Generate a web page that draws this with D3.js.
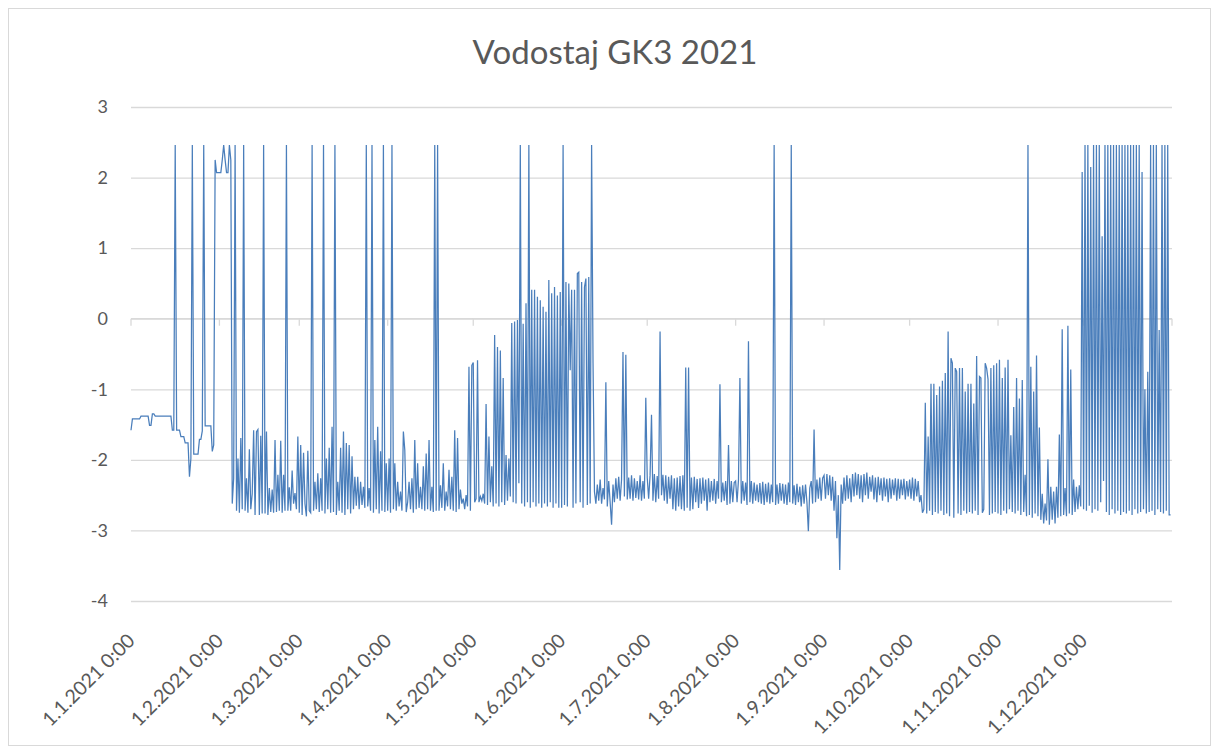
<!DOCTYPE html>
<html>
<head>
<meta charset="utf-8">
<script src="https://cdn.jsdelivr.net/npm/d3@7"></script>
<style>
  html, body { margin: 0; padding: 0; background: #ffffff; }
  svg { display: block; }
  text { font-family: Lato, "Open Sans", "Liberation Sans", sans-serif; fill: #595959; }
</style>
</head>
<body>
<svg id="chart" width="1219" height="754"></svg>
<script>
// Water level readings, two samples per day, one array per month (metres).
const jan = [-1.58,-1.42,-1.42,-1.42,-1.42,-1.42,-1.42,-1.38,-1.38,-1.38,-1.38,-1.38,-1.38,-1.51,-1.51,-1.35,-1.35,
  -1.38,-1.38,-1.38,-1.38,-1.38,-1.38,-1.38,-1.38,-1.38,-1.38,-1.38,-1.38,-1.58,-1.58,2.46,-1.58,-1.58,-1.58,
  -1.67,-1.67,-1.67,-1.76,-1.76,-1.76,-2.24,-1.98,2.46,-1.92,-1.92,-1.92,-1.92,-1.71,-1.71,-1.59,2.46,
  -1.52,-1.52,-1.52,-1.52,-1.52,-1.88,-1.79,2.25,2.07,2.07];
const feb = [2.07,2.07,2.25,2.46,2.25,2.07,2.07,2.46,2.25,-2.62,-2.26,2.46,-2.72,-1.98,-2.75,-1.69,-2.70,2.46,
  -2.72,-2.26,-2.75,-1.85,-2.70,-2.48,-1.58,-2.78,-1.60,-1.57,-2.78,-1.66,-2.76,2.46,-2.76,-1.60,-2.78,-2.40,
  -2.74,-2.42,-2.75,-1.72,-2.74,-2.21,-2.72,-1.73,-2.75,-2.21,-2.72,2.46,-2.72,-2.39,-2.72,-2.15,-2.62,-2.47,
  -2.70,-1.67];
const mar = [-2.75,-1.79,-2.78,-1.90,-2.62,-2.80,-1.87,-2.72,-2.75,2.46,-2.72,-2.31,-2.70,-2.19,-2.74,-2.26,
  -2.72,2.46,-2.76,-1.98,-2.70,-1.83,-2.75,-1.53,-2.74,2.46,-2.78,-2.31,-2.72,-1.83,-2.75,-1.60,-2.78,-1.76,
  -2.70,-1.79,-2.76,-1.95,-2.70,-2.24,-2.65,-2.24,-2.70,-2.31,-2.64,-2.38,-2.68,2.46,-2.66,-2.40,-2.72,2.46,
  -2.75,-1.72,-2.70,-1.53,-2.76,-1.88,-2.72,2.46,-2.74,-2.05];
const apr = [-2.72,-1.98,-2.75,2.46,-2.70,-2.05,-2.72,-2.31,-2.66,-2.45,-2.72,-1.60,-1.86,-2.74,-2.60,-2.31,
  -2.70,-2.26,-2.75,-1.72,-2.70,-2.05,-2.68,-2.38,-2.70,-2.09,-2.72,-1.91,-2.70,-1.72,-2.72,-2.38,-2.74,2.46,
  -2.72,2.46,-2.72,-2.36,-2.68,-2.05,-2.72,-2.45,-2.66,-2.14,-2.70,-2.24,-2.72,-1.58,-2.74,-1.69,-2.70,-2.42,
  -2.62,-2.55,-2.70,-2.50,-2.66,-0.68,-2.72,-0.66];
const may = [-0.62,-2.60,-2.55,-0.59,-2.60,-2.52,-2.58,-2.48,-2.62,-1.21,-2.64,-1.67,-2.60,-2.09,-2.66,-0.23,
  -2.62,-0.40,-2.66,-0.45,-2.60,-0.84,-2.64,-1.93,-2.58,-1.98,-2.52,-0.06,-2.60,-0.04,-2.62,-0.02,-2.33,2.46,
  -2.62,-0.07,-2.66,0.22,-2.60,2.46,-2.68,0.41,-2.60,0.41,-2.66,0.31,-2.62,0.26,-2.68,0.17,-2.62,0.10,-2.66,
  0.55,-2.60,0.36,-2.68,0.45,-2.62,0.33,-2.68,0.38];
const jun = [-2.68,2.46,-2.64,0.52,-2.66,0.50,-0.73,0.41,-2.68,0.41,-2.62,0.64,0.66,-2.60,0.52,-2.68,0.45,0.57,
  -2.64,0.59,-2.62,2.46,-0.63,-2.45,-2.62,-2.35,-2.58,-2.28,-2.62,-2.40,-2.56,-0.90,-2.66,-2.30,-2.60,-2.92,
  -2.35,-2.60,-2.26,-2.55,-2.24,-2.58,-2.28,-0.47,-2.52,-0.51,-2.56,-2.25,-2.55,-2.22,-2.58,-2.26,-2.54,-2.30,
  -2.56,-2.22,-2.58,-2.30,-2.55,-1.12];
const jul = [-2.25,-2.55,-2.22,-1.36,-2.58,-2.20,-2.60,-2.23,-2.55,-0.18,-2.50,-2.21,-2.58,-2.22,-2.62,-2.24,
  -2.55,-2.22,-2.70,-2.26,-2.72,-2.25,-2.66,-2.23,-2.70,-2.22,-2.72,-0.69,-2.68,-0.69,-2.72,-2.25,-2.70,-2.24,
  -2.60,-2.27,-2.68,-2.26,-2.62,-2.25,-2.58,-2.28,-2.72,-2.26,-2.60,-2.30,-2.58,-2.27,-2.62,-2.30,-2.55,-0.93,
  -2.60,-2.32,-2.58,-2.30,-2.64,-1.79,-2.62,-2.30,-2.60,-2.32];
const aug = [-2.30,-2.60,-2.28,-0.84,-2.62,-2.30,-2.58,-2.32,-2.64,-0.32,-2.60,-2.30,-2.62,-2.32,-2.58,-2.35,
  -2.60,-2.33,-2.62,-2.31,-2.64,-2.34,-2.60,-2.32,-2.62,-2.35,-2.60,2.46,-2.64,-2.35,-2.62,-2.33,-2.58,-2.34,
  -2.62,-2.35,-2.64,-2.32,-2.60,2.46,-2.62,-2.36,-2.64,-2.34,-2.60,-2.38,-2.66,-2.36,-2.62,-2.35,-2.60,-3.01,
  -2.40,-2.30,-2.62,-1.57,-2.60,-2.28,-2.55,-2.25,-2.58,-2.26];
const sep = [-2.22,-2.55,-2.20,-2.50,-2.22,-2.58,-2.24,-2.72,-2.30,-3.11,-2.50,-3.56,-2.35,-2.62,-2.25,-2.58,
  -2.22,-2.55,-2.26,-2.60,-2.20,-2.52,-2.18,-2.50,-2.20,-2.55,-2.22,-2.60,-2.20,-2.50,-2.18,-2.55,-2.24,-2.45,
  -2.22,-2.56,-2.25,-2.60,-2.24,-2.50,-2.26,-2.58,-2.25,-2.52,-2.27,-2.60,-2.26,-2.55,-2.28,-2.50,-2.26,-2.58,
  -2.27,-2.55,-2.28,-2.50,-2.27,-2.56,-2.30,-2.52];
const oct = [-2.28,-2.55,-2.25,-2.58,-2.27,-2.52,-2.30,-2.60,-2.50,-2.75,-2.70,-1.19,-2.76,-1.67,-2.72,-0.92,
  -2.78,-0.92,-2.74,-1.08,-2.76,-0.96,-2.72,-0.88,-2.78,-0.77,-2.76,-0.18,-2.80,-0.56,-0.63,-2.82,-0.70,-0.75,
  -2.76,-0.70,-2.78,-0.70,-2.72,-1.03,-2.76,-0.92,-2.74,-0.92,-2.76,-1.20,-2.72,-0.53,-2.78,-0.82,-0.84,-2.75,
  -2.70,-0.63,-0.70,-0.86,-2.78,-0.70,-2.76,-0.66,-2.74,-0.63];
const nov = [-2.76,-0.58,-2.78,-0.84,-2.72,-0.69,-2.76,-0.58,-2.70,-1.65,-2.74,-1.25,-2.76,-0.84,-2.72,-1.13,
  -2.78,-0.87,-2.74,-2.21,-2.80,2.46,-2.78,-0.68,-2.82,-1.03,-2.76,-0.52,-2.80,-1.54,-2.85,-2.48,-2.90,-2.62,
  -2.86,-1.99,-2.92,-2.38,-2.85,-2.45,-2.90,-2.38,-2.82,-1.64,-2.80,-0.15,-2.78,-2.40,-2.80,-0.10,-2.76,-0.72,
  -2.78,-2.28,-2.74,-2.38,-2.70,-2.36,-2.66,2.08];
const dec = [-2.70,2.46,-2.72,2.46,-2.65,2.15,-2.75,2.46,-2.70,2.46,-2.72,2.46,-2.60,1.17,-2.30,2.46,-2.74,2.46,
  -2.78,2.46,-2.70,2.46,-2.76,2.46,-2.72,2.46,-2.78,2.46,-2.74,2.46,-2.76,2.46,-2.72,2.46,-2.78,2.46,-2.70,2.46,
  -2.76,2.46,-2.74,2.08,-2.70,-1.00,-2.76,-0.75,-2.74,2.46,-2.72,2.46,-2.78,2.46,-2.70,-0.16,-2.74,2.46,-2.76,
  2.46,-2.72,2.46,-2.78,-2.78];

const monthSeries = [jan, feb, mar, apr, may, jun, jul, aug, sep, oct, nov, dec];
const tickLabels = ["1.1.2021 0:00","1.2.2021 0:00","1.3.2021 0:00","1.4.2021 0:00","1.5.2021 0:00",
  "1.6.2021 0:00","1.7.2021 0:00","1.8.2021 0:00","1.9.2021 0:00","1.10.2021 0:00","1.11.2021 0:00","1.12.2021 0:00"];
const yTicks = [3, 2, 1, 0, -1, -2, -3, -4];
const title = "Vodostaj GK3 2021";

// Flatten the monthly arrays into timestamped points, spaced evenly through each month.
const points = [];
monthSeries.forEach((vals, m) => {
  const start = Date.UTC(2021, m, 1);
  const end = Date.UTC(2021, m + 1, 1);
  vals.forEach((v, i) => {
    points.push({ t: new Date(start + (end - start) * i / vals.length), v });
  });
});

const svg = d3.select("#chart");
const W = 1219, H = 754;
const plot = { left: 131, right: 1172, top: 107, bottom: 601 };

// Outer chart frame
svg.append("rect")
  .attr("x", 8.5).attr("y", 8.5)
  .attr("width", W - 17).attr("height", H - 17)
  .attr("fill", "#fff").attr("stroke", "#d9d9d9").attr("stroke-width", 1);

const x = d3.scaleUtc()
  .domain([new Date(Date.UTC(2021, 0, 1)), new Date(Date.UTC(2022, 0, 1))])
  .range([plot.left, plot.right]);
const y = d3.scaleLinear().domain([-4, 3]).range([plot.bottom, plot.top]);

// Horizontal gridlines and value labels
const yAxis = d3.axisLeft(y).tickValues(yTicks).tickSize(-(plot.right - plot.left)).tickPadding(23)
  .tickFormat(d3.format("d"));
const gy = svg.append("g").attr("transform", `translate(${plot.left},0)`).call(yAxis);
gy.select(".domain").remove();
gy.selectAll(".tick line").attr("stroke", "#d9d9d9").attr("stroke-width", 1.3);
gy.selectAll(".tick text").attr("font-size", 18).style("fill", "#595959")
  .text(d => d < 0 ? "-" + Math.abs(d) : d);

// Date axis running along the zero line, month tick marks
const monthTicks = d3.range(13).map(m => new Date(Date.UTC(2021, m, 1)));
const gx = svg.append("g").attr("transform", `translate(0,${y(0)})`);
gx.append("line").attr("x1", plot.left).attr("x2", plot.right)
  .attr("stroke", "#d9d9d9").attr("stroke-width", 1.3);
gx.selectAll("line.tk").data(monthTicks).join("line").attr("class", "tk")
  .attr("x1", d => x(d)).attr("x2", d => x(d)).attr("y1", 0).attr("y2", 7)
  .attr("stroke", "#d9d9d9").attr("stroke-width", 1.3);

// Rotated date labels below the plot
svg.append("g").selectAll("text").data(tickLabels).join("text")
  .attr("transform", (d, i) => `translate(${x(monthTicks[i]) + 5},${plot.bottom + 41}) rotate(-45)`)
  .attr("text-anchor", "end")
  .attr("font-size", 19.5)
  .text(d => d);

// Data line
const line = d3.line().x(d => x(d.t)).y(d => y(d.v));
svg.append("path").datum(points)
  .attr("d", line)
  .attr("fill", "none")
  .attr("stroke", "#4a7ebb")
  .attr("stroke-width", 1.25)
  .attr("stroke-linejoin", "miter");

// Title
svg.append("text")
  .attr("x", 615).attr("y", 64)
  .attr("text-anchor", "middle")
  .attr("font-size", 33)
  .text(title);
</script>
</body>
</html>
